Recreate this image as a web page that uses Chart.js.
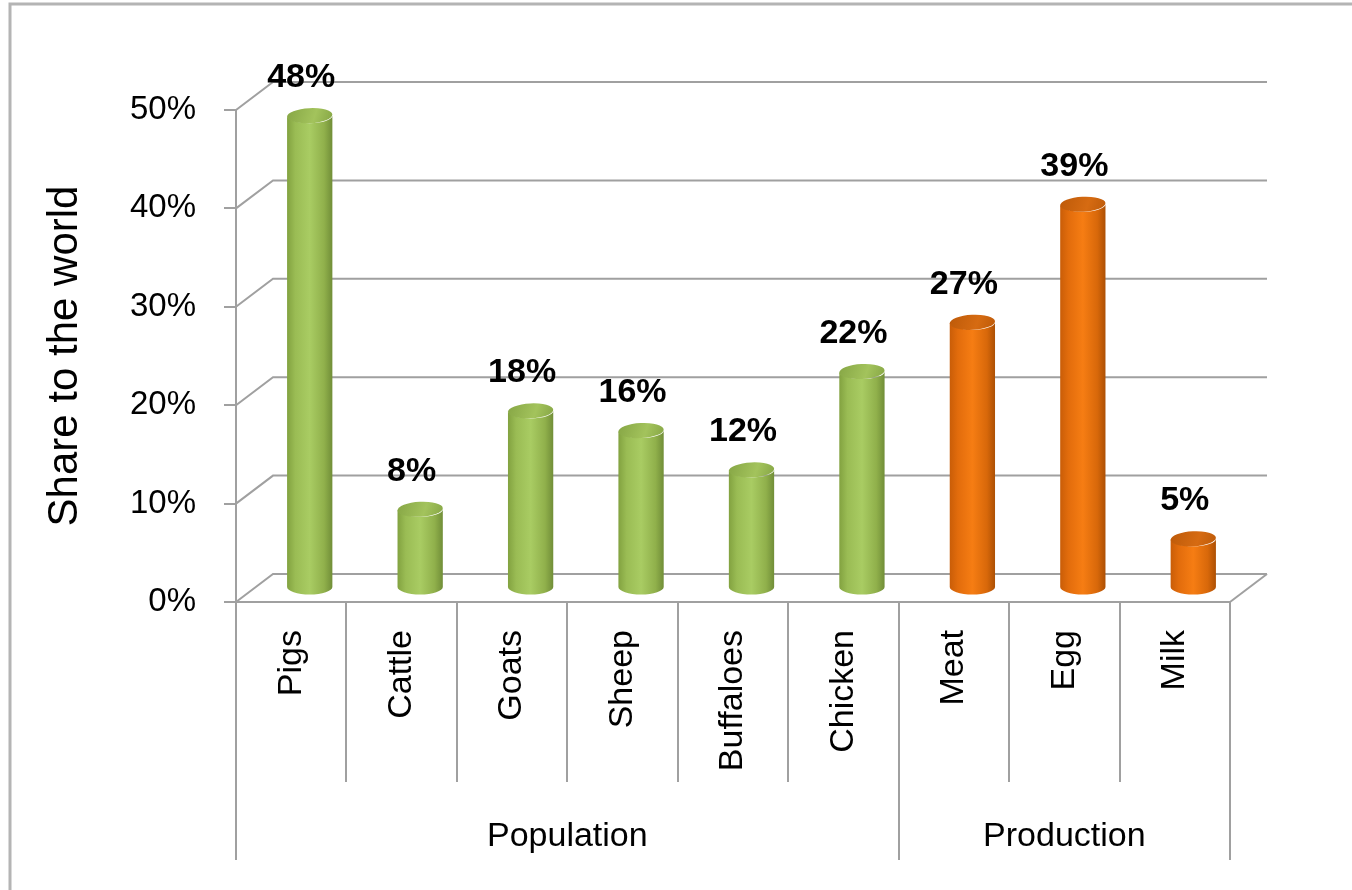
<!DOCTYPE html>
<html>
<head>
<meta charset="utf-8">
<script src="https://cdn.jsdelivr.net/npm/chart.js@4.4.1/dist/chart.umd.min.js"></script>
<style>
  body { margin: 0; background: #fff; }
  canvas { display: block; }
</style>
</head>
<body>
<canvas id="share_chart" width="1352" height="890"></canvas>
<script>
// chart data
const categories = ['Pigs', 'Cattle', 'Goats', 'Sheep', 'Buffaloes', 'Chicken', 'Meat', 'Egg', 'Milk'];
const shares = [48, 8, 18, 16, 12, 22, 27, 39, 5];
const groupNames = ['Population', 'Production'];
const groupSizes = [6, 3];
const yTicks = [0, 10, 20, 30, 40, 50];
const yTitle = 'Share to the world';

const FONT = "'Liberation Sans', Arial, sans-serif";
const LINE = '#a0a0a0';
// depth of the 3d box
const DX = 37, DY = -28;

const palettes = [
    {stops: ['#82a240', '#9abc54', '#a9cc63', '#90b04b', '#718e38'], top: ['#86a645', '#a3c35c']},
    {stops: ['#c95d08', '#e26c0c', '#f67d13', '#d8680a', '#ad5004'], top: ['#bd5a09', '#d66b12']}
];

// which group each bar is in
const groupOf = [];
groupSizes.forEach((n, g) => { for (let i = 0; i < n; i++) groupOf.push(g); });

const drawCylinder = (ctx, cx, topY, botY, rx, ry, pal) => {
    const grad = ctx.createLinearGradient(cx - rx, 0, cx + rx, 0);
    [0, 0.18, 0.5, 0.82, 1].forEach((s, i) => grad.addColorStop(s, pal.stops[i]));
    ctx.beginPath();
    ctx.moveTo(cx - rx, topY);
    ctx.lineTo(cx - rx, botY);
    ctx.ellipse(cx, botY, rx, ry, 0, Math.PI, 0, true);
    ctx.lineTo(cx + rx, topY);
    ctx.ellipse(cx, topY, rx, ry, 0, 0, Math.PI, false);
    ctx.closePath();
    ctx.fillStyle = grad;
    ctx.fill();
    // top face
    const tg = ctx.createLinearGradient(cx - rx, topY - ry, cx + rx, topY + ry);
    tg.addColorStop(0, pal.top[0]);
    tg.addColorStop(0.6, pal.top[1]);
    tg.addColorStop(1, pal.top[0]);
    ctx.beginPath();
    ctx.ellipse(cx, topY, rx, ry, -0.05, 0, Math.PI * 2);
    ctx.fillStyle = tg;
    ctx.fill();
}

const scene3d = {
    id: 'scene3d',
    beforeDraw: (chart) => {
        const {ctx, chartArea: a, scales: {y}} = chart;
        ctx.save();
        // frame
        ctx.strokeStyle = '#b4b4b4';
        ctx.lineWidth = 3;
        ctx.beginPath();
        ctx.moveTo(10, 890);
        ctx.lineTo(10, 4);
        ctx.lineTo(1352, 4);
        ctx.stroke();
        // back wall grid
        ctx.strokeStyle = LINE;
        ctx.lineWidth = 2;
        yTicks.forEach((t) => {
            const py = y.getPixelForValue(t);
            ctx.beginPath();
            ctx.moveTo(a.left, py);
            ctx.lineTo(a.left + DX, py + DY);
            ctx.lineTo(a.right + DX, py + DY);
            ctx.stroke();
        });
        // floor right edge
        ctx.beginPath();
        ctx.moveTo(a.right, a.bottom);
        ctx.lineTo(a.right + DX, a.bottom + DY);
        ctx.stroke();
        ctx.restore();
    },
    beforeDatasetsDraw: (chart) => {
        const {ctx} = chart;
        const meta = chart.getDatasetMeta(0);
        ctx.save();
        meta.data.forEach((bar, i) => {
            const p = bar.getProps(['x', 'y', 'base', 'width'], true);
            drawCylinder(ctx, p.x + DX / 2, p.y + DY / 2, p.base + DY / 2, p.width / 2, 7.5, palettes[groupOf[i]]);
        });
        ctx.fillStyle = '#000';
        ctx.font = 'bold 34px ' + FONT;
        ctx.textAlign = 'center';
        ctx.textBaseline = 'middle';
        meta.data.forEach((bar, i) => {
            const p = bar.getProps(['x', 'y'], true);
            ctx.fillText(shares[i] + '%', p.x + 10, p.y - 52);
        });
        ctx.restore();
        return false;
    },
    afterDraw: (chart) => {
        const {ctx, chartArea: a, scales: {x}} = chart;
        const step = (a.right - a.left) / categories.length;
        ctx.save();
        ctx.strokeStyle = LINE;
        ctx.lineWidth = 2;
        // separators between categories
        const groupEdges = [0];
        groupSizes.forEach((n) => groupEdges.push(groupEdges[groupEdges.length - 1] + n));
        for (let i = 0; i <= categories.length; i++) {
            const px = Math.round(a.left + i * step);
            ctx.beginPath();
            ctx.moveTo(px, a.bottom);
            ctx.lineTo(px, groupEdges.includes(i) ? 860 : 782);
            ctx.stroke();
        }
        // category labels
        ctx.fillStyle = '#000';
        ctx.font = '34px ' + FONT;
        categories.forEach((c, i) => {
            ctx.save();
            ctx.translate(x.getPixelForValue(i), 630);
            ctx.rotate(-Math.PI / 2);
            ctx.textAlign = 'right';
            ctx.textBaseline = 'middle';
            ctx.fillText(c, 0, 0);
            ctx.restore();
        });
        // group labels
        ctx.textAlign = 'center';
        ctx.textBaseline = 'middle';
        groupNames.forEach((g, k) => {
            const cx = a.left + (groupEdges[k] + groupEdges[k + 1]) / 2 * step;
            ctx.fillText(g, cx, 837);
        });
        ctx.restore();
    }
};

Chart.defaults.font.family = FONT;
Chart.defaults.color = '#000';

new Chart('share_chart', {
    type: 'bar',
    data: {
        labels: categories,
        datasets: [{
            data: shares,
            backgroundColor: groupOf.map((g) => palettes[g].stops[2]),
            categoryPercentage: 1,
            barPercentage: 0.41
        }]
    },
    options: {
        responsive: false,
        animation: false,
        events: [],
        layout: {padding: {left: 10, top: 110, right: 122, bottom: 0}},
        plugins: {legend: {display: false}, tooltip: {enabled: false}},
        scales: {
            x: {
                ticks: {display: false},
                grid: {display: false},
                border: {display: true, color: LINE, width: 2},
                afterFit: (s) => { s.height = 288; }
            },
            y: {
                min: 0,
                max: 50,
                afterBuildTicks: (s) => { s.ticks = yTicks.map((v) => ({value: v})); },
                ticks: {
                    callback: (v) => v + '%',
                    font: {size: 33},
                    padding: 28
                },
                grid: {drawOnChartArea: false, drawTicks: true, tickLength: 12, color: LINE, lineWidth: 2},
                border: {display: true, color: LINE, width: 2},
                title: {display: true, text: yTitle, font: {size: 42}, padding: {top: 30}},
                afterFit: (s) => { s.width = 226; }
            }
        }
    },
    plugins: [scene3d]
});
</script>
</body>
</html>
